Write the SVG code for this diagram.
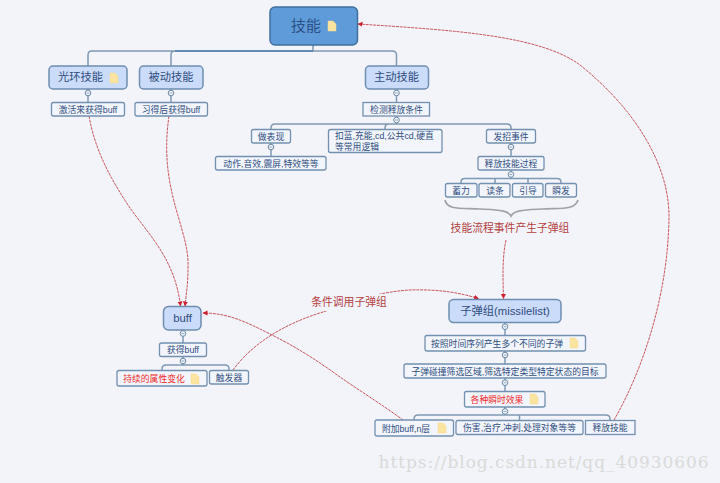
<svg xmlns="http://www.w3.org/2000/svg" width="720" height="483" viewBox="0 0 720 483">
<style>
text{font-family:"Liberation Sans","Noto Sans CJK SC",sans-serif;fill:#2f4d80;text-anchor:middle}
.root{fill:#5f9ad9;stroke:#41709f;stroke-width:1.5}
.main{fill:#cbdcfa;stroke:#6f8db0;stroke-width:1.5}
.sub{fill:#f2f5fc;stroke:#7390b0;stroke-width:1.3}
.t1{font-size:15px;fill:#2b5288}
.t2{font-size:11.3px}
.t3{font-size:8.8px}
.s{text-anchor:start}
.r{fill:#ee2a2a}
.lab{font-size:10.8px;fill:#b4403f}
.tree{fill:none;stroke:#7f98b4;stroke-width:1.5}
.link{fill:none;stroke:#c4444c;stroke-width:.9;stroke-dasharray:3 .8;marker-end:url(#ah)}
.c{fill:#f2f5fb;stroke:#6d8aa8;stroke-width:1}
.m{stroke:#6d8aa8;stroke-width:.7}
.note{fill:#fbe3a0;stroke:#f6d98c;stroke-width:.5}
</style>
<defs>
<marker id="ah" markerWidth="6" markerHeight="6" refX="4.5" refY="3" orient="auto" markerUnits="userSpaceOnUse"><path d="M0 .5L5 3L0 5.500Z" fill="#d01f2e"/></marker>
<path id="n" class="note" d="M0 0H5L8 3V10H0Z"/>
<g id="o"><circle class="c" r="2.800"/><path class="m" d="M-1.500 0H1.500"/></g>
</defs>
<rect width="720" height="483" fill="#f2f4fa"/>
<g id="connectors">
<path class="tree" d="M313 45V51M92 51H392Q396.500 51 396.500 55V66M92 51Q88 51 88 55V66M175 51Q171 51 171 55V66"/>
<path d="M175 51H313" fill="none" stroke="#4f7db0" stroke-width="1.500"/>
<path class="tree" d="M88 89V102.500M171 89V102.500M396.500 89V102.500M396.500 116V124M275 124H507Q511 124 511 128V129.500M275 124Q271 124 271 128V129.500M389 124Q385 124 385 128V129.500M271 143V156.500M511 143V156.500M511 170V178.500M465 178.500H557Q561 178.500 561 182V183.500M465 178.500Q461 178.500 461 182V183.500M495 178.500V183.500M528 178.500V183.500"/>
<path class="tree" d="M183 330V343M183 356.500V365M166 365H225Q229 365 229 369V370.500M166 365Q162 365 162 369V370.500"/>
<path class="tree" d="M505 322V335.500M505 351V364M505 378V391.500M505 407V415M418 415H606Q610 415 610 419V420.500M418 415Q414 415 414 419V420M519.500 415V420.500"/>
<path d="M445 200C447 210 460 208 480 209C498 210 508 210 511 216C514 210 524 210 542 209C562 208 575 210 578 200" fill="none" stroke="#a0a2a6" stroke-width="1.700"/>
<path class="link" d="M89 116C95 150 110 178 130 208C150 236 175 260 180.500 306"/>
<path class="link" d="M169 116C164 150 168 175 172 193C178 220 189 245 188 267C188 285 186 295 185 306"/>
<path class="link" d="M506 240C502 258 503 280 503.500 298.500"/>
<path class="link" d="M233 370C255 340 290 322 323 312C350 303 375 292 410 290C440 289 460 293 478.500 298.500"/>
<path class="link" d="M403 420C380 403 355 388 333 372C312 357 292 345 272 335C250 324 230 313 203 313"/>
<path class="link" d="M614 420C640 375 668 300 669 217C669 160 630 105 580 65C540 35 450 30 358 24"/>
</g>
<g id="node-skill"><rect class="root" x="270" y="7" width="87.500" height="38" rx="5"/><text class="t1" x="306" y="31">技能</text><use href="#n" x="328" y="21"/></g>
<g id="node-aura"><rect class="main" x="49" y="66" width="78" height="23" rx="4"/><text class="t2" x="80.500" y="81">光环技能</text><use href="#n" x="110" y="73"/><use href="#o" x="88" y="93"/></g>
<g id="node-passive"><rect class="main" x="139.500" y="66" width="63.500" height="23" rx="4"/><text class="t2" x="171" y="81">被动技能</text><use href="#o" x="171" y="93"/></g>
<g id="node-active"><rect class="main" x="365.500" y="66" width="63" height="23" rx="4"/><text class="t2" x="396.500" y="81">主动技能</text><use href="#o" x="396.500" y="93"/></g>
<g id="node-activate"><rect class="sub" x="51.500" y="102.500" width="73" height="13.500" rx="2"/><text class="t3" x="88" y="112.500">激活来获得buff</text></g>
<g id="node-learn"><rect class="sub" x="135" y="102.500" width="72.500" height="13.500" rx="2"/><text class="t3" x="171" y="112.500">习得后获得buff</text></g>
<g id="node-check"><rect class="sub" x="363" y="102.500" width="66.500" height="13.500"/><text class="t3" x="396.500" y="112.500">检测释放条件</text><use href="#o" x="396.500" y="120"/></g>
<g id="node-perform"><rect class="sub" x="251.500" y="129.500" width="39" height="13.500" rx="2"/><text class="t3" x="271" y="139.500">做表现</text><use href="#o" x="271" y="147"/></g>
<g id="node-logic"><rect class="sub" x="328.500" y="129.500" width="113.500" height="23" rx="2"/><text class="t3 s" x="335" y="139">扣蓝,充能,cd,公共cd,硬直</text><text class="t3 s" x="335" y="149.500">等常用逻辑</text></g>
<g id="node-cast"><rect class="sub" x="486.500" y="129.500" width="49" height="13.500" rx="2"/><text class="t3" x="511" y="139.500">发招事件</text><use href="#o" x="511" y="147"/></g>
<g id="node-effects"><rect class="sub" x="215.500" y="156.500" width="110.500" height="13.500" rx="2"/><text class="t3" x="271" y="166.500">动作,音效,震屏,特效等等</text></g>
<g id="node-process"><rect class="sub" x="478" y="156.500" width="66" height="13.500" rx="2"/><text class="t3" x="511" y="166.500">释放技能过程</text><use href="#o" x="511" y="174.500"/></g>
<g id="node-charge"><rect class="sub" x="445.500" y="183.500" width="31.500" height="13.500" rx="2"/><text class="t3" x="461" y="193.500">蓄力</text></g>
<g id="node-read"><rect class="sub" x="479" y="183.500" width="31" height="13.500" rx="2"/><text class="t3" x="495" y="193.500">读条</text></g>
<g id="node-guide"><rect class="sub" x="512.500" y="183.500" width="30.500" height="13.500" rx="2"/><text class="t3" x="528" y="193.500">引导</text></g>
<g id="node-instant"><rect class="sub" x="545.500" y="183.500" width="31" height="13.500" rx="2"/><text class="t3" x="561" y="193.500">瞬发</text></g>
<g id="label-flow"><text class="lab" x="510" y="232">技能流程事件产生子弹组</text></g>
<g id="label-call"><rect x="308" y="294" width="80" height="17" fill="#f2f4fa"/><text class="lab" x="349" y="306">条件调用子弹组</text></g>
<g id="node-buff"><rect class="main" x="163.500" y="306.500" width="37.500" height="23.500" rx="5"/><text class="t2" x="182.500" y="322">buff</text><use href="#o" x="183" y="333.500"/></g>
<g id="node-gain"><rect class="sub" x="159.500" y="343" width="47" height="13.500" rx="2"/><text class="t3" x="183" y="353">获得buff</text><use href="#o" x="183" y="361"/></g>
<g id="node-lasting"><rect class="sub" x="117" y="370.500" width="90" height="15.500" rx="2"/><text class="t3 r" x="154" y="381.500">持续的属性变化</text><use href="#n" x="191" y="374"/></g>
<g id="node-trigger"><rect class="sub" x="209.500" y="370.500" width="39" height="13.500" rx="2"/><text class="t3" x="229" y="380.500">触发器</text></g>
<g id="node-missile"><rect class="main" x="449" y="299.500" width="112" height="23" rx="4.500"/><text class="t2" x="505" y="315">子弹组(missilelist)</text><use href="#o" x="505" y="326.700"/></g>
<g id="node-sequence"><rect class="sub" x="425" y="335.500" width="160.500" height="15.500" rx="2"/><text class="t3" x="497" y="347">按照时间序列产生多个不同的子弹</text><use href="#n" x="570" y="338"/><use href="#o" x="505" y="355"/></g>
<g id="node-filter"><rect class="sub" x="404" y="364" width="202" height="14" rx="2"/><text class="t3" x="505" y="374.500">子弹碰撞筛选区域,筛选特定类型特定状态的目标</text><use href="#o" x="505" y="382.700"/></g>
<g id="node-instanteffect"><rect class="sub" x="464.500" y="391.500" width="80.500" height="15.500" rx="2"/><text class="t3 r" x="497" y="403">各种瞬时效果</text><use href="#n" x="530" y="394"/><use href="#o" x="505" y="411.500"/></g>
<g id="node-addbuff"><rect class="sub" x="375" y="420" width="78.500" height="16" rx="2"/><text class="t3" x="406" y="431.500">附加buff,n层</text><use href="#n" x="438" y="423"/></g>
<g id="node-damage"><rect class="sub" x="456" y="420.500" width="127" height="14" rx="2"/><text class="t3" x="519.500" y="431">伤害,治疗,冲刺,处理对象等等</text></g>
<g id="node-release"><rect class="sub" x="585.500" y="420.500" width="49.500" height="14"/><text class="t3" x="610" y="431">释放技能</text></g>
<g id="watermark"><text x="544" y="468" style="font-family:'DejaVu Serif','Liberation Mono',monospace;font-size:17px;fill:#d9dad8;letter-spacing:.93px">https://blog.csdn.net/qq_40930606</text></g>
</svg>
